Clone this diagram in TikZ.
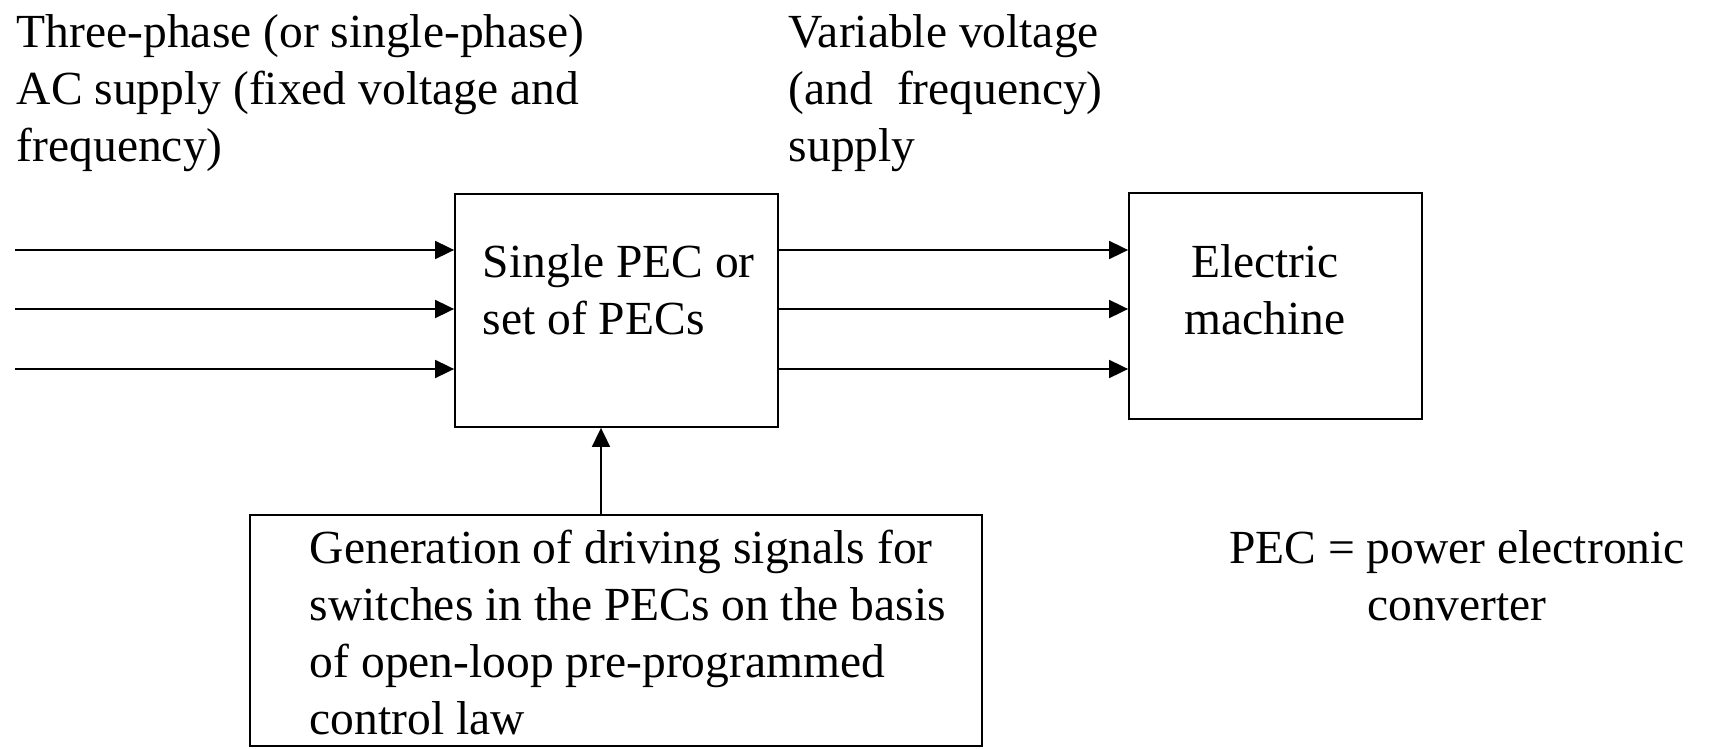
\documentclass[tikz,border=0pt]{standalone}
\usepackage{fontspec}
\setmainfont{Liberation Serif}
\usetikzlibrary{arrows.meta}

\begin{document}
\begin{tikzpicture}[x=1pt,y=-1pt,line width=1.8pt,
  box/.style={draw,inner sep=0pt},
  txt/.style={inner sep=0pt,anchor=base west,align=left,font=\fontsize{47.5}{57}\selectfont},
  arr/.style={-{Triangle[length=19pt,width=18pt]}}]
  \useasboundingbox (0,0) rectangle (1710,749);
  \node[box,minimum width=323pt,minimum height=233pt] (pec) at (616.5,310.5) {};
  \node[box,minimum width=293pt,minimum height=226pt] (em) at (1275.5,306) {};
  \node[box,minimum width=732pt,minimum height=231pt] (gen) at (616,630.5) {};
  \node[txt] (supply) at (16,161) {Three-phase (or single-phase)\\AC supply (fixed voltage and\\frequency)};
  \node[txt] (var) at (788,161) {Variable voltage\\(and\ \ frequency)\\supply};
  \node[txt] (peclabel) at (482,334) {Single PEC or\\set of PECs};
  \node[txt,anchor=base,align=center] (emlabel) at (1265,334) {Electric\\machine};
  \node[txt] (genlabel) at (309,734) {Generation of driving signals for\\switches in the PECs on the basis\\of open-loop pre-programmed\\control law};
  \node[txt,anchor=base,align=center] (legend) at (1457,620) {PEC = power electronic\\converter};
  \coordinate (in1) at (15,250);
  \coordinate (in2) at (15,309);
  \coordinate (in3) at (15,369);
  \draw[arr] (in1) -- (in1 -| pec.west);
  \draw[arr] (in2) -- (in2 -| pec.west);
  \draw[arr] (in3) -- (in3 -| pec.west);
  \draw[arr] (in1 -| pec.east) -- (in1 -| em.west);
  \draw[arr] (in2 -| pec.east) -- (in2 -| em.west);
  \draw[arr] (in3 -| pec.east) -- (in3 -| em.west);
  \draw[arr] (gen.north -| 601,0) -- (pec.south -| 601,0);
\end{tikzpicture}
\end{document}
